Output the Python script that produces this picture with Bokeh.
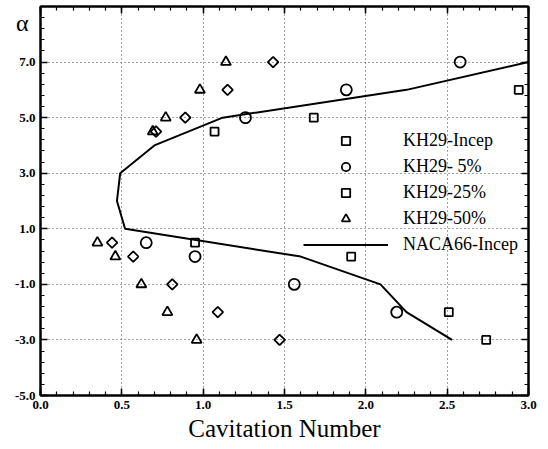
import numpy as np
from bokeh.plotting import figure
from bokeh.models import (Range1d, SingleIntervalTicker, FixedTicker, LinearAxis,
                          PrintfTickFormatter, Legend, LegendItem)
from bokeh.embed import file_html
from bokeh.resources import INLINE

# ---- data ----
incep_x = [2.94, 1.68, 1.07, 0.95, 1.91, 2.51, 2.74]
incep_y = [6.0, 5.0, 4.5, 0.5, 0.0, -2.0, -3.0]

p5_x = [2.58, 1.88, 1.26, 0.65, 0.95, 1.56, 2.19]
p5_y = [7.0, 6.0, 5.0, 0.5, 0.0, -1.0, -2.0]

p25_x = [1.43, 1.15, 0.89, 0.71, 0.44, 0.57, 0.81, 1.09, 1.47]
p25_y = [7.0, 6.0, 5.0, 4.5, 0.5, 0.0, -1.0, -2.0, -3.0]

p50_x = [1.14, 0.98, 0.77, 0.69, 0.35, 0.46, 0.62, 0.78, 0.96]
p50_y = [7.0, 6.0, 5.0, 4.5, 0.5, 0.0, -1.0, -2.0, -3.0]

naca_x = [2.53, 2.25, 2.09, 1.60, 0.52, 0.47, 0.49, 0.70, 1.12, 2.25, 3.00]
naca_y = [-3.0, -2.0, -1.0, 0.0, 1.0, 2.0, 3.0, 4.0, 5.0, 6.0, 7.0]

y_major = [-5, -3, -1, 1, 3, 5, 7]
legend_labels = ["KH29-Incep", "KH29- 5%", "KH29-25%", "KH29-50%", "NACA66-Incep"]
x_title = "Cavitation Number"
y_title = "α"

SERIF = "Liberation Serif"

p = figure(width=548, height=449, output_backend="svg", toolbar_location=None,
           x_range=Range1d(0, 3.0), y_range=Range1d(-5, 9.0),
           min_border_left=40, min_border_right=20, min_border_top=6,
           min_border_bottom=54, x_axis_location=None, y_axis_location=None)
p.background_fill_color = "white"
p.outline_line_color = "black"
p.outline_line_width = 2

xt = SingleIntervalTicker(interval=0.5, num_minor_ticks=5)
yminor = [round(-5 + 0.4 * k, 2) for k in range(0, 36)]
yt = FixedTicker(ticks=y_major, minor_ticks=yminor)


def style_axis(ax, labels=True):
    ax.axis_line_color = "black"
    ax.axis_line_width = 2
    ax.major_tick_in = 7
    ax.major_tick_out = 0
    ax.minor_tick_in = 4
    ax.minor_tick_out = 0
    ax.major_tick_line_width = 1.5
    ax.minor_tick_line_width = 1.2
    ax.major_tick_line_color = "black"
    ax.minor_tick_line_color = "black"
    if labels:
        ax.major_label_text_font = SERIF
        ax.major_label_text_font_style = "bold"
        ax.major_label_text_font_size = "13px"
        ax.major_label_text_color = "black"
        ax.major_label_standoff = 5
        ax.formatter = PrintfTickFormatter(format="%.1f")
    else:
        ax.major_label_text_font_size = "0px"
        ax.major_label_standoff = 0
        ax.major_label_text_color = None


bx = LinearAxis(ticker=xt, axis_label=x_title)
style_axis(bx)
bx.axis_label_text_font = SERIF
bx.axis_label_text_font_style = "normal"
bx.axis_label_text_font_size = "25px"
bx.axis_label_text_color = "black"
bx.axis_label_standoff = 3
p.add_layout(bx, "below")
ly = LinearAxis(ticker=yt); style_axis(ly); p.add_layout(ly, "left")
tx = LinearAxis(ticker=xt); style_axis(tx, False); p.add_layout(tx, "above")
ry = LinearAxis(ticker=yt); style_axis(ry, False); p.add_layout(ry, "right")

# outer left axis used only to carry the "α" title; padding lines below it
# lift the symbol to the top of the frame
la = LinearAxis(ticker=FixedTicker(ticks=[]),
                axis_label=y_title + "\n\u00a0" * 12,
                axis_label_orientation="horizontal",
                axis_label_standoff=-17, axis_line_color=None,
                major_tick_line_color=None, minor_tick_line_color=None,
                major_label_text_font_size="0px", major_label_standoff=0,
                major_tick_out=0, minor_tick_out=0, major_tick_in=0, minor_tick_in=0)
la.axis_label_text_font = SERIF
la.axis_label_text_font_style = "normal"
la.axis_label_text_font_size = "24px"
la.axis_label_text_line_height = 1.14
la.axis_label_text_color = "black"
la.axis_label_text_align = "center"
p.add_layout(la, "left")

p.xgrid.ticker = xt
p.ygrid.ticker = yt
for g in (p.xgrid, p.ygrid):
    g.grid_line_color = "#444444"
    g.grid_line_dash = "1 3"
    g.grid_line_width = 1

lw = 1.8
r_sq = p.scatter(incep_x, incep_y, marker="square", size=8, fill_color=None,
                 line_color="black", line_width=lw)
r_ci = p.scatter(p5_x, p5_y, marker="circle", size=11, fill_color=None,
                 line_color="black", line_width=lw)
r_di = p.scatter(p25_x, p25_y, marker="square", angle=np.pi / 4, size=7.5,
                 fill_color=None, line_color="black", line_width=lw)
r_tr = p.scatter(p50_x, p50_y, marker="triangle", size=10, fill_color=None,
                 line_color="black", line_width=lw)
r_ln = p.line(naca_x, naca_y, line_color="black", line_width=2)

legend = Legend(items=[LegendItem(label=legend_labels[0], renderers=[r_sq]),
                       LegendItem(label=legend_labels[1], renderers=[r_ci]),
                       LegendItem(label=legend_labels[2], renderers=[r_di]),
                       LegendItem(label=legend_labels[3], renderers=[r_tr]),
                       LegendItem(label=legend_labels[4], renderers=[r_ln])],
                location=(263, 140), padding=0, margin=0, spacing=5,
                glyph_width=85, glyph_height=21, label_height=21,
                label_standoff=15, label_text_font=SERIF,
                label_text_font_size="18px", label_text_color="black",
                background_fill_alpha=0, border_line_alpha=0)
p.add_layout(legend, "center")

open("out.html", "w").write(file_html(p, INLINE))
